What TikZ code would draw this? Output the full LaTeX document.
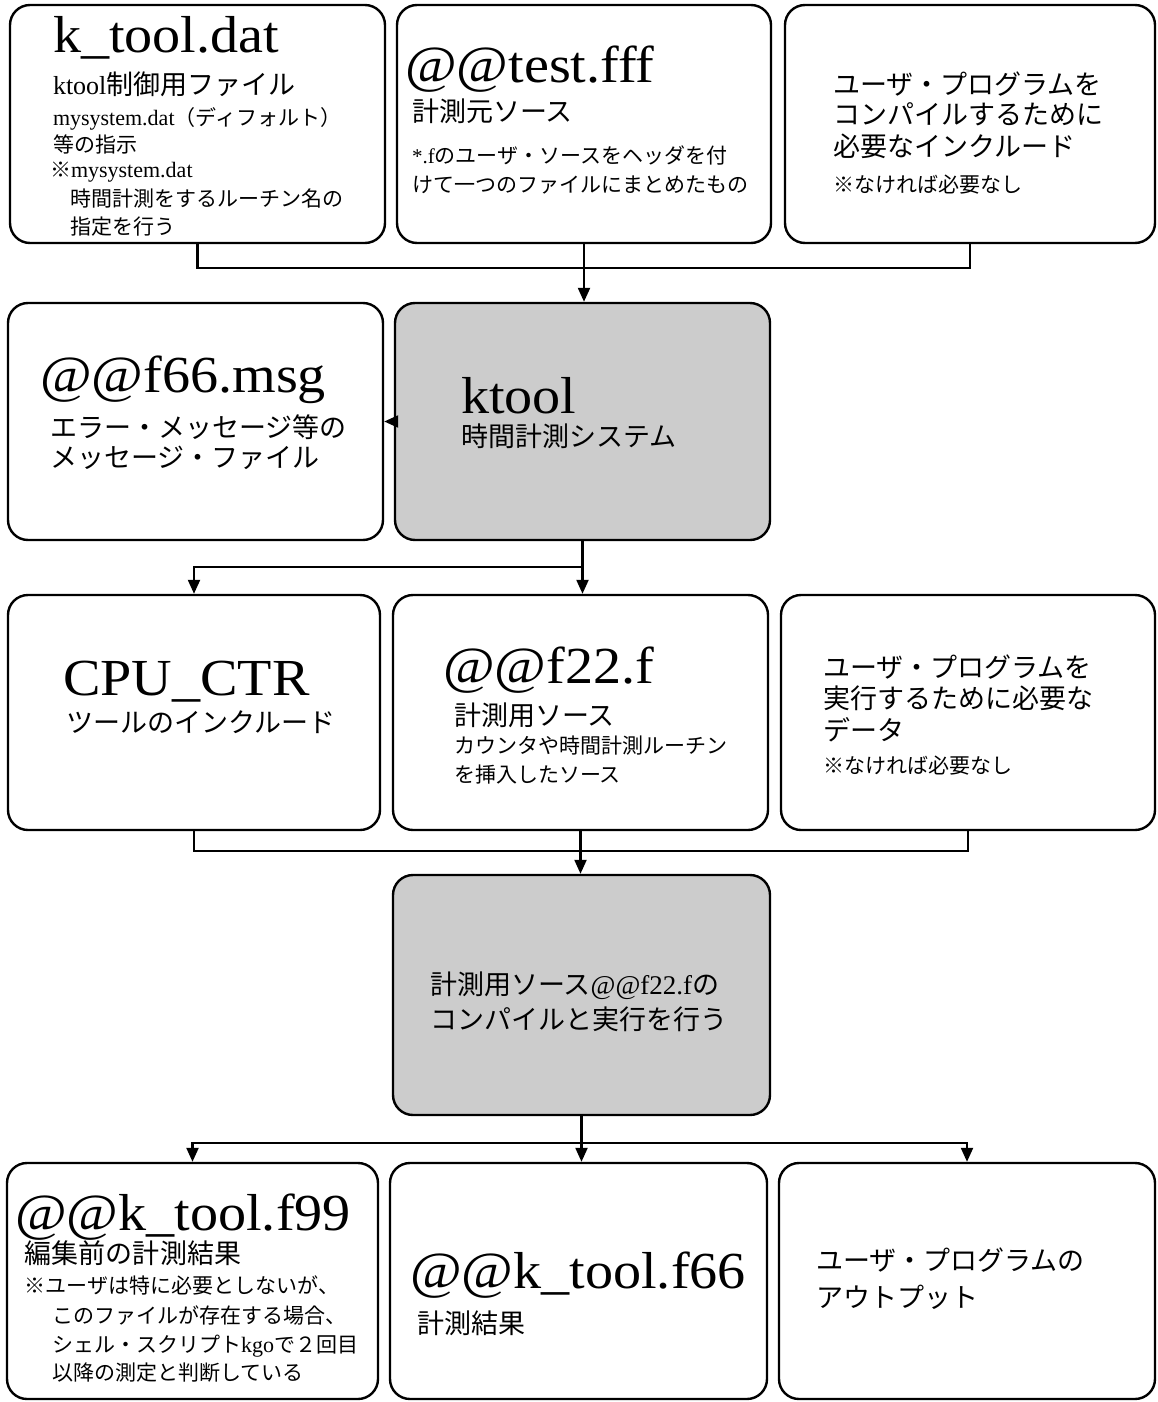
\documentclass[tikz,border=0pt]{standalone}
\usepackage{fontspec}
\setmainfont{Liberation Serif}
\newfontfamily\ttl{Liberation Serif}[FakeStretch=1.08]
\newfontfamily\jp{Noto Sans CJK JP}
\usetikzlibrary{arrows.meta}
\newcommand\lat[1]{{\rmfamily #1}}
\tikzset{
 box/.style={draw, line width=1.2pt, rounded corners=10pt, inner sep=0pt},
 grey/.style={box, fill=black!20},
 lbl/.style={anchor=base west, inner sep=0pt, outer sep=0pt},
 big/.style={lbl, font=\ttl\fontsize{26}{28}\selectfont},
 mid/.style={lbl, font=\jp\fontsize{13.5}{15}\selectfont},
 sml/.style={lbl, font=\jp\fontsize{10.5}{12}\selectfont},
 conn/.style={line width=1.1pt},
 arr/.style={conn, -{Triangle[length=7pt,width=6pt]}},
}
\begin{document}
\begin{tikzpicture}[x=0.5pt,y=-0.5pt]
\useasboundingbox (0,0) rectangle (1157,1402);
% boxes
\node[box, minimum width=187.5pt, minimum height=119pt] (A) at (197.5,124) {};
\node[box, minimum width=187pt, minimum height=119pt] (B) at (584,124) {};
\node[box, minimum width=185pt, minimum height=119pt] (C) at (970,124) {};
\node[box, minimum width=187.5pt, minimum height=118.5pt] (M) at (195.5,421.5) {};
\node[grey, minimum width=187.5pt, minimum height=118.5pt] (K) at (582.5,421.5) {};
\node[box, minimum width=186pt, minimum height=117.5pt] (P) at (194,712.5) {};
\node[box, minimum width=187.5pt, minimum height=117.5pt] (F) at (580.5,712.5) {};
\node[box, minimum width=187pt, minimum height=117.5pt] (D) at (968,712.5) {};
\node[grey, minimum width=188.5pt, minimum height=120pt] (G) at (581.5,995) {};
\node[box, minimum width=185.5pt, minimum height=118pt] (R1) at (192.5,1281) {};
\node[box, minimum width=188.5pt, minimum height=118pt] (R2) at (578.5,1281) {};
\node[box, minimum width=188pt, minimum height=118pt] (R3) at (967,1281) {};
% texts: A
\node[big] (a1) at (53,53) {k\_tool.dat};
\node[mid] (a2) at (53,95) {\lat{\fontsize{13}{15}\selectfont ktool}制御用ファイル};
\node[sml] (a3) at (53,126) {\lat{\fontsize{11}{13}\selectfont mysystem.dat}（ディフォルト）};
\node[sml] (a4) at (53,153) {等の指示};
\node[sml] (a5) at (50,177) {※\lat{\fontsize{11}{13}\selectfont mysystem.dat}};
\node[sml] (a6) at (70,206) {時間計測をするルーチン名の};
\node[sml] (a7) at (70,234) {指定を行う};
% B
\node[big] (b1) at (405,83) {@@test.fff};
\node[mid] (b2) at (412,121) {計測元ソース};
\node[sml] (b3) at (412,163) {\lat{*.f}のユーザ・ソースをヘッダを付};
\node[sml] (b4) at (412,192) {けて一つのファイルにまとめたもの};
% C
\node[mid] (c1) at (833,95) {ユーザ・プログラムを};
\node[mid] (c2) at (833,125) {コンパイルするために};
\node[mid] (c3) at (833,156) {必要なインクルード};
\node[sml] (c4) at (833,192) {※なければ必要なし};
% M
\node[big] (m1) at (40,392) {@@f66.msg};
\node[mid] (m2) at (50,437) {エラー・メッセージ等の};
\node[mid] (m3) at (50,467) {メッセージ・ファイル};
% K
\node[big] (k1) at (461,413) {ktool};
\node[mid] (k2) at (461,446) {時間計測システム};
% P
\node[big] (p1) at (63,695) {CPU\_CTR};
\node[mid] (p2) at (66,732) {ツールのインクルード};
% F
\node[big] (f1) at (443,683) {@@f22.f};
\node[mid] (f2) at (454,725) {計測用ソース};
\node[sml] (f3) at (454,753) {カウンタや時間計測ルーチン};
\node[sml] (f4) at (454,782) {を挿入したソース};
% D
\node[mid] (d1) at (823,677) {ユーザ・プログラムを};
\node[mid] (d2) at (823,708) {実行するために必要な};
\node[mid] (d3) at (823,740) {データ};
\node[sml] (d4) at (823,773) {※なければ必要なし};
% G
\node[mid] (g1) at (430,994) {計測用ソース\lat{@@f22.f}の};
\node[mid] (g2) at (430,1029) {コンパイルと実行を行う};
% R1
\node[big] (r1a) at (15,1230) {@@k\_tool.f99};
\node[mid] (r1b) at (25,1263) {編集前の計測結果};
\node[sml] (r1c) at (25,1293) {※ユーザは特に必要としないが、};
\node[sml] (r1d) at (52,1323) {このファイルが存在する場合、};
\node[sml] (r1e) at (52,1352) {シェル・スクリプト\lat{\fontsize{11}{13}\selectfont kgo}で２回目};
\node[sml] (r1f) at (52,1380) {以降の測定と判断している};
% R2
\node[big] (r2a) at (410,1288) {@@k\_tool.f66};
\node[mid] (r2b) at (417,1333) {計測結果};
% R3
\node[mid] (r3a) at (816,1270) {ユーザ・プログラムの};
\node[mid] (r3b) at (816,1307) {アウトプット};
% connectors
\coordinate (j1) at (585,268);
\coordinate (j2) at (583,567);
\coordinate (j3) at (583,851);
\coordinate (j4) at (583,1143);
\draw[conn] (A.south) |- (j1) -| (C.south);
\draw[arr] (B.south) -- (B.south |- K.north);
\draw[arr] (K.west) -- (M.east);
\draw[arr] (K.south) -- (K.south |- F.north);
\draw[arr] (K.south |- j2) -| (P.north);
\draw[conn] (P.south) |- (j3) -| (D.south);
\draw[arr] (F.south) -- (F.south |- G.north);
\draw[arr] (G.south) -- (G.south |- R2.north);
\draw[arr] (G.south |- j4) -| (R1.north);
\draw[arr] (G.south |- j4) -| (R3.north);
\end{tikzpicture}
\end{document}
